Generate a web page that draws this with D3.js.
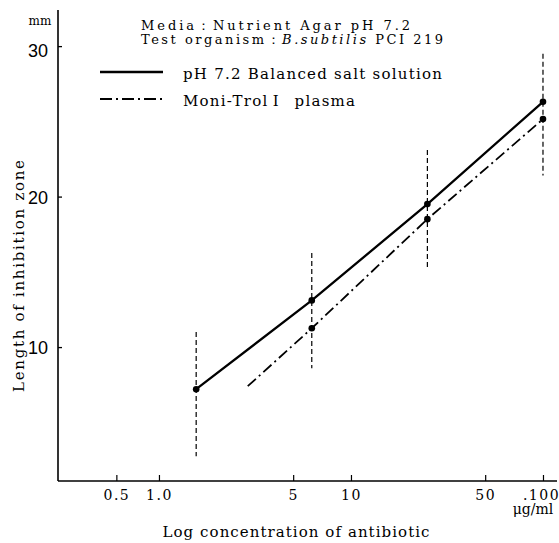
<!DOCTYPE html>
<html><head><meta charset="utf-8">
<script src="https://cdn.jsdelivr.net/npm/d3@7"></script>
<style>body{margin:0;background:#fff}svg{display:block}</style>
</head><body>
<svg id="c" width="559" height="543"></svg>
<script>
// ---- data ----
const concBalanced = [1.5625, 6.25, 25, 100];
const zoneBalanced = [7.2, 13.1, 19.5, 26.3];
const concPlasma = [2.9, 6.25, 25, 100];
const zonePlasma = [7.4, 11.25, 18.5, 25.15];
const plasmaMarked = [false, true, true, true];
const rangeConc = [1.5625, 6.25, 25, 100];
const rangeLow = [2.75, 8.6, 15.3, 21.4];
const rangeHigh = [11.0, 16.25, 23.1, 29.5];
const xTickValues = [0.6, 1, 5, 10, 50, 100];
const xTickLabels = ["0.5", "1.0", "5", "10", "50", ".100"];
const yTickValues = [10, 20, 30];
const seriesNames = ["pH 7.2 Balanced salt solution", "Moni-Trol\u2009I\u2002 plasma"];

const svg = d3.select("#c");
const L = 58, T = 10, R = 557, B = 481;
const x = d3.scaleLog().domain([0.298, 118.3]).range([L, R]);
const y = d3.scaleLinear().domain([1.1, 32.4]).range([B, T]);
const serif = "DejaVu Serif";
const sans = "Liberation Sans";

// axes
const yAxis = d3.axisLeft(y).tickValues(yTickValues).tickSize(-4).tickPadding(10).tickFormat(d3.format("d"));
const gy = svg.append("g").attr("transform", `translate(${L},0)`).call(yAxis);
gy.attr("font-family", null).attr("font-size", null);
gy.select(".domain").attr("d", `M0,${T}V${B}`).attr("stroke-width", 1.6);
gy.selectAll(".tick line").attr("stroke-width", 1.3);
gy.selectAll(".tick text").style("font-family", sans).style("font-size", "18px").attr("dy", "0.36em").attr("fill", "#000");
gy.selectAll(".tick text").filter(d => d === 30).attr("dy", "0.6em");

const xAxis = d3.axisBottom(x).tickValues(xTickValues).tickSize(-6).tickPadding(9)
  .tickFormat((d, i) => xTickLabels[i]);
const gx = svg.append("g").attr("transform", `translate(0,${B})`).call(xAxis);
gx.attr("font-family", null).attr("font-size", null);
gx.select(".domain").attr("d", `M${L},0H${R}`).attr("stroke-width", 1.6);
gx.selectAll(".tick line").attr("stroke-width", 1.2);
gx.selectAll(".tick text").style("font-family", serif).style("font-size", "14px").attr("letter-spacing", "1.5px").attr("fill", "#000");
gx.selectAll(".tick text").filter(d => d === 100).attr("dx", "-2");

// error ranges
rangeConc.forEach((c, i) => {
  svg.append("line").attr("x1", x(c)).attr("x2", x(c)).attr("y1", y(rangeHigh[i])).attr("y2", y(rangeLow[i]))
    .attr("stroke", "#000").attr("stroke-width", 1.2).attr("stroke-dasharray", "5,3");
});

// lines
const line = d3.line().x(d => x(d[0])).y(d => y(d[1]));
const balData = concBalanced.map((c, i) => [c, zoneBalanced[i]]);
const plaData = concPlasma.map((c, i) => [c, zonePlasma[i]]);
svg.append("path").attr("d", line(balData)).attr("fill", "none").attr("stroke", "#000").attr("stroke-width", 2.3);
svg.append("path").attr("d", line(plaData)).attr("fill", "none").attr("stroke", "#000").attr("stroke-width", 1.8)
  .attr("stroke-dasharray", "11,4,2,4");
svg.selectAll("circle.b").data(balData).enter().append("circle").attr("class", "b")
  .attr("cx", d => x(d[0])).attr("cy", d => y(d[1])).attr("r", 3.3).attr("fill", "#000");
svg.selectAll("circle.p").data(plaData.filter((d, i) => plasmaMarked[i])).enter().append("circle").attr("class", "p")
  .attr("cx", d => x(d[0])).attr("cy", d => y(d[1])).attr("r", 3.3).attr("fill", "#000");

// texts
function txt(xp, yp, size) {
  return svg.append("text").attr("x", xp).attr("y", yp).style("font-family", serif).style("font-size", size + "px").attr("fill", "#000");
}
txt(40, 25, 12).attr("text-anchor", "middle").text("mm");
const t1 = txt(141, 30, 13).attr("textLength", 269).attr("lengthAdjust", "spacing");
t1.append("tspan").text("Media\uFF1ANutrient Agar pH 7.2");
const t2 = txt(141, 44, 13).attr("textLength", 302).attr("lengthAdjust", "spacing");
t2.append("tspan").text("Test organism\uFF1A");
t2.append("tspan").attr("font-style", "italic").text("B.subtilis");
t2.append("tspan").text(" PCI 219");

// legend
svg.append("line").attr("x1", 100).attr("x2", 163).attr("y1", 72).attr("y2", 72).attr("stroke", "#000").attr("stroke-width", 2.3);
svg.append("line").attr("x1", 100).attr("x2", 163).attr("y1", 99).attr("y2", 99).attr("stroke", "#000").attr("stroke-width", 1.8)
  .attr("stroke-dasharray", "12,4,2,4");
txt(183, 79, 15).attr("textLength", 259).attr("lengthAdjust", "spacing").text(seriesNames[0]);
txt(183, 106, 15).attr("textLength", 172).attr("lengthAdjust", "spacing").text(seriesNames[1]);

// axis titles
txt(0, 0, 15).attr("transform", "translate(24,276) rotate(-90)").attr("text-anchor", "middle")
  .attr("textLength", 232).attr("lengthAdjust", "spacing").text("Length of inhibition zone");
txt(296, 537, 15).attr("text-anchor", "middle").attr("textLength", 267).attr("lengthAdjust", "spacing")
  .text("Log concentration of antibiotic");
txt(533, 514, 14).attr("text-anchor", "middle").text("\u03BCg/ml");
</script>
</body></html>
